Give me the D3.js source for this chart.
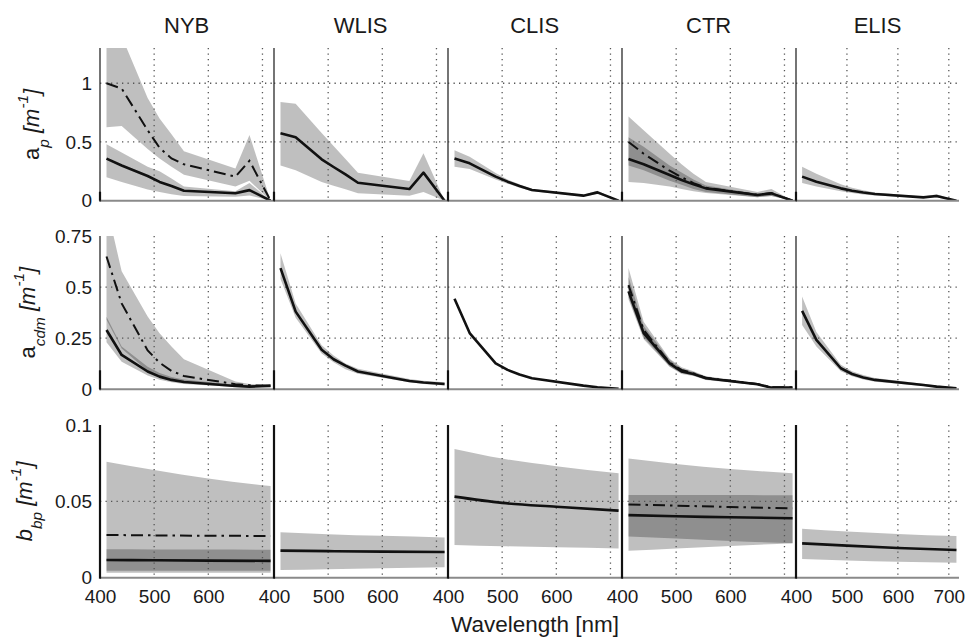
<!DOCTYPE html>
<html>
<head>
<meta charset="utf-8">
<script src="https://cdn.jsdelivr.net/npm/d3@7"></script>
<style>
  body { margin: 0; background: #fff; }
  svg text { font-family: "Liberation Sans", Arial, Helvetica, sans-serif; fill: #1a1a1a; }
</style>
</head>
<body>
<svg id="chart" width="965" height="637"></svg>
<script>
// Stations (columns) and spectral sampling
const stations = ["NYB", "WLIS", "CLIS", "CTR", "ELIS"];
const wavelengths = [412, 440, 488, 510, 532, 555, 650, 676, 715];
const bbWavelengths = [412, 500, 600, 715];

const xTickValues = [400, 500, 600, 700];
const apTicks = [0, 0.5, 1];
const acdmTicks = [0, 0.25, 0.5, 0.75];
const bbpTicks = [0, 0.05, 0.1];

// Particulate absorption a_p (m^-1): solid series with its range
const apMean = [
  [0.358, 0.30, 0.21, 0.16, 0.125, 0.085, 0.063, 0.09, 0],
  [0.574, 0.54, 0.352, 0.287, 0.224, 0.153, 0.099, 0.239, 0],
  [0.36, 0.318, 0.205, 0.162, 0.125, 0.091, 0.043, 0.071, 0],
  [0.355, 0.31, 0.219, 0.176, 0.139, 0.105, 0.048, 0.0625, 0],
  [0.205, 0.162, 0.105, 0.085, 0.07, 0.057, 0.028, 0.04, 0]
];
const apMeanLo = [
  [0.2, 0.16, 0.095, 0.075, 0.055, 0.04, 0.034, 0.045, 0],
  [0.30, 0.26, 0.16, 0.128, 0.097, 0.0625, 0.043, 0.074, 0],
  [0.29, 0.27, 0.18, 0.145, 0.11, 0.08, 0.036, 0.058, 0],
  [0.16, 0.15, 0.12, 0.10, 0.08, 0.065, 0.03, 0.04, 0],
  [0.15, 0.12, 0.08, 0.065, 0.052, 0.045, 0.022, 0.028, 0]
];
const apMeanHi = [
  [0.48, 0.41, 0.29, 0.25, 0.19, 0.12, 0.08, 0.15, 0],
  [0.84, 0.825, 0.577, 0.466, 0.355, 0.239, 0.168, 0.403, 0],
  [0.43, 0.375, 0.235, 0.18, 0.14, 0.10, 0.05, 0.085, 0],
  [0.54, 0.46, 0.30, 0.24, 0.18, 0.13, 0.06, 0.075, 0],
  [0.29, 0.23, 0.14, 0.11, 0.09, 0.07, 0.035, 0.055, 0]
];
// Dash-dot series (NYB and CTR only)
const apAlt = [
  [1.0, 0.955, 0.60, 0.45, 0.36, 0.31, 0.205, 0.34, 0],
  null, null,
  [0.50, 0.40, 0.255, 0.20, 0.15, 0.11, 0.05, 0.065, 0],
  null
];
const apAltLo = [
  [0.625, 0.636, 0.44, 0.36, 0.29, 0.22, 0.12, 0.17, 0],
  null, null,
  [0.30, 0.26, 0.17, 0.135, 0.10, 0.075, 0.03, 0.04, 0],
  null
];
const apAltHi = [
  [1.45, 1.4, 0.875, 0.70, 0.565, 0.42, 0.275, 0.56, 0],
  null, null,
  [0.716, 0.60, 0.40, 0.31, 0.23, 0.16, 0.075, 0.10, 0],
  null
];

// CDOM + detritus absorption a_cdm (m^-1)
const acdmMean = [
  [0.29, 0.168, 0.087, 0.062, 0.046, 0.036, 0.016, 0.013, 0.018],
  [0.593, 0.38, 0.193, 0.147, 0.116, 0.087, 0.041, 0.033, 0.026],
  [0.443, 0.275, 0.127, 0.095, 0.072, 0.054, 0.018, 0.01, 0.002],
  [0.479, 0.275, 0.127, 0.087, 0.075, 0.054, 0.025, 0.008, 0.008],
  [0.384, 0.242, 0.103, 0.075, 0.058, 0.046, 0.021, 0.013, 0.005]
];
const acdmMeanLo = [
  [0.23, 0.135, 0.068, 0.047, 0.034, 0.026, 0.011, 0.009, 0.013],
  [0.54, 0.35, 0.175, 0.132, 0.098, 0.076, 0.034, 0.026, 0.019],
  null,
  [0.44, 0.245, 0.11, 0.075, 0.065, 0.046, 0.02, 0.005, 0.004],
  [0.315, 0.21, 0.088, 0.064, 0.048, 0.037, 0.016, 0.009, 0.002]
];
const acdmMeanHi = [
  [0.355, 0.21, 0.11, 0.08, 0.06, 0.048, 0.022, 0.018, 0.022],
  [0.665, 0.42, 0.215, 0.165, 0.126, 0.10, 0.05, 0.042, 0.034],
  null,
  [0.55, 0.31, 0.145, 0.10, 0.085, 0.062, 0.03, 0.013, 0.012],
  [0.454, 0.28, 0.12, 0.088, 0.07, 0.055, 0.027, 0.018, 0.01]
];
const acdmAlt = [
  [0.65, 0.42, 0.19, 0.13, 0.09, 0.065, 0.025, 0.02, 0.015],
  null, null,
  [0.51, 0.29, 0.13, 0.095, 0.078, 0.056, 0.026, 0.01, 0.01],
  null
];
const acdmAltLo = [
  [0.34, 0.20, 0.09, 0.065, 0.048, 0.036, 0.012, 0.01, 0.008],
  null, null,
  [0.45, 0.255, 0.112, 0.08, 0.068, 0.048, 0.021, 0.006, 0.005],
  null
];
const acdmAltHi = [
  [0.9, 0.577, 0.356, 0.274, 0.21, 0.147, 0.038, 0.026, 0.021],
  null, null,
  [0.593, 0.33, 0.15, 0.108, 0.088, 0.064, 0.031, 0.014, 0.013],
  null
];

// Particulate backscattering b_bp (m^-1)
const bbpMean = [
  [0.0116, 0.0114, 0.0112, 0.011],
  [0.0177, 0.0174, 0.0171, 0.0168],
  [0.0531, 0.049, 0.0465, 0.0439],
  [0.041, 0.0402, 0.0396, 0.0389],
  [0.0225, 0.021, 0.0195, 0.0181]
];
const bbpMeanLo = [
  [0.0046, 0.0046, 0.0045, 0.0045],
  [0.005, 0.0056, 0.0062, 0.0068],
  [0.0214, 0.0206, 0.0199, 0.0192],
  [0.0177, 0.0192, 0.0208, 0.0225],
  [0.0122, 0.0113, 0.0105, 0.0098]
];
const bbpMeanHi = [
  [0.0186, 0.0185, 0.0184, 0.0183],
  [0.0297, 0.0285, 0.0274, 0.0264],
  [0.0843, 0.078, 0.073, 0.0684],
  [0.0542, 0.0542, 0.0541, 0.054],
  [0.0321, 0.0303, 0.0287, 0.0273]
];
const bbpAlt = [
  [0.028, 0.0277, 0.0275, 0.0273],
  null, null,
  [0.048, 0.0472, 0.0463, 0.0454],
  null
];
const bbpAltLo = [
  [0.0033, 0.0033, 0.0033, 0.0033],
  null, null,
  [0.027, 0.0256, 0.024, 0.0225],
  null
];
const bbpAltHi = [
  [0.076, 0.0705, 0.065, 0.060],
  null, null,
  [0.078, 0.0745, 0.0712, 0.0684],
  null
];

// ---- layout ----
const panelLeft = [100, 274, 448, 622, 796];
const panelWidth = [173.3, 173.3, 173.3, 173.3, 163];
const rowTop = [48, 236, 425];
const rowHeight = [152.7, 153.3, 152.7];

const rows = [
  { wl: wavelengths, domain: [0, 1.3], ticks: apTicks, fmt: d3.format("~g"),
    mean: apMean, lo: apMeanLo, hi: apMeanHi, alt: apAlt, altLo: apAltLo, altHi: apAltHi,
    sub: "p", curve: d3.curveLinear, labelX: 38.5, tickLen: 9 },
  { wl: wavelengths, domain: [0, 0.75], ticks: acdmTicks, fmt: d3.format("~g"),
    mean: acdmMean, lo: acdmMeanLo, hi: acdmMeanHi, alt: acdmAlt, altLo: acdmAltLo, altHi: acdmAltHi,
    sub: "cdm", curve: d3.curveLinear, labelX: 34.5, tickLen: 19 },
  { wl: bbWavelengths, domain: [0, 0.1], ticks: bbpTicks, fmt: d3.format("~g"),
    mean: bbpMean, lo: bbpMeanLo, hi: bbpMeanHi, alt: bbpAlt, altLo: bbpAltLo, altHi: bbpAltHi,
    sub: "bp", curve: d3.curveMonotoneX, labelX: 32, tickLen: 0, main: "b" }
];

const svg = d3.select("#chart");
const defs = svg.append("defs");

const bandFill = "#000";
const bandOpacity = 0.25;
const gridColor = "#555";
const fontStack = '"Liberation Sans", Arial, sans-serif';

rows.forEach((row, r) => {
  const top = rowTop[r], h = rowHeight[r], bottom = top + h;
  const y = d3.scaleLinear().domain(row.domain).range([bottom, top]);

  stations.forEach((st, p) => {
    const x = d3.scaleLinear().domain([400, 720]).range([panelLeft[p], panelLeft[p] + panelWidth[p]]);
    const clipId = `clip-${r}-${p}`;
    defs.append("clipPath").attr("id", clipId)
      .append("rect").attr("x", x(400)).attr("y", top).attr("width", panelWidth[p]).attr("height", h);

    const g = svg.append("g").attr("clip-path", `url(#${clipId})`);

    const zip = (vals, lo, hi) => row.wl.map((w, i) => ({ w, v: vals ? vals[i] : null, lo: lo ? lo[i] : null, hi: hi ? hi[i] : null }));
    const area = d3.area().curve(row.curve).x(d => x(d.w)).y0(d => y(d.lo)).y1(d => y(d.hi));
    const line = d3.line().curve(row.curve).x(d => x(d.w)).y(d => y(d.v));

    // ranges (semi-transparent so overlaps read darker)
    if (row.alt[p] && row.altLo[p]) {
      g.append("path").datum(zip(null, row.altLo[p], row.altHi[p]))
        .attr("d", area).attr("fill", bandFill).attr("fill-opacity", bandOpacity);
    }
    if (row.lo[p]) {
      g.append("path").datum(zip(null, row.lo[p], row.hi[p]))
        .attr("d", area).attr("fill", bandFill).attr("fill-opacity", bandOpacity);
    }

    // dotted grid
    xTickValues.filter(t => t > 400 && t < 720).forEach(t => {
      g.append("line").attr("x1", x(t)).attr("x2", x(t)).attr("y1", top).attr("y2", bottom)
        .attr("stroke", gridColor).attr("stroke-width", 1.3).attr("stroke-dasharray", "1.3,4.2");
    });
    row.ticks.filter(t => t > row.domain[0] && t < row.domain[1]).forEach(t => {
      g.append("line").attr("x1", x(400)).attr("x2", x(720)).attr("y1", y(t)).attr("y2", y(t))
        .attr("stroke", gridColor).attr("stroke-width", 1.3).attr("stroke-dasharray", "1.3,4.2");
    });

    // series lines
    if (row.alt[p]) {
      g.append("path").datum(zip(row.alt[p]))
        .attr("d", line).attr("fill", "none").attr("stroke", "#111")
        .attr("stroke-width", 2).attr("stroke-dasharray", "12,5,2.5,5");
    }
    g.append("path").datum(zip(row.mean[p]))
      .attr("d", line).attr("fill", "none").attr("stroke", "#111")
      .attr("stroke-width", 2.6).attr("stroke-linejoin", "round");

    // bottom axis line
    svg.append("line").attr("x1", x(400)).attr("x2", x(720)).attr("y1", bottom).attr("y2", bottom)
      .attr("stroke", "#8a8a8a").attr("stroke-width", 2);
    // left axis line
    svg.append("line").attr("x1", x(400)).attr("x2", x(400)).attr("y1", top).attr("y2", bottom + 1)
      .attr("stroke", r === 2 ? "#111" : "#3a3a3a").attr("stroke-width", r === 2 ? 2.2 : 1.4);
    if (row.tickLen > 0) {
      svg.append("line").attr("x1", x(400)).attr("x2", x(400)).attr("y1", bottom - row.tickLen).attr("y2", bottom)
        .attr("stroke", "#111").attr("stroke-width", 2.2);
    }

    // station titles
    if (r === 0) {
      svg.append("text").attr("x", x(560)).attr("y", 33).attr("text-anchor", "middle")
        .attr("font-size", 22).text(st);
    }

    // wavelength tick labels
    if (r === 2) {
      const vals = p === stations.length - 1 ? [400, 500, 600, 700] : [400, 500, 600];
      const ax = svg.append("g").attr("transform", `translate(0,${bottom})`)
        .call(d3.axisBottom(x).tickValues(vals).tickSize(0).tickPadding(12).tickFormat(d3.format("d")));
      ax.select(".domain").remove();
      ax.selectAll("text").attr("font-size", 19).attr("fill", "#1a1a1a").style("font-family", fontStack);
    }

    // value axis labels on first column
    if (p === 0) {
      const ay = svg.append("g").attr("transform", `translate(${x(400)},0)`)
        .call(d3.axisLeft(y).tickValues(row.ticks).tickSize(0).tickPadding(8).tickFormat(row.fmt));
      ay.select(".domain").remove();
      ay.selectAll("text").attr("font-size", 19).attr("fill", "#1a1a1a").style("font-family", fontStack);
    }
  });

  // row quantity label
  const lbl = svg.append("text")
    .attr("transform", `translate(${row.labelX},${top + h / 2}) rotate(-90)`)
    .attr("text-anchor", "middle").attr("font-size", 22);
  lbl.append("tspan").attr("font-style", r === 2 ? "italic" : "normal").text(row.main || "a");
  lbl.append("tspan").attr("baseline-shift", -10).attr("font-size", "70%").attr("font-style", "italic").text(row.sub);
  lbl.append("tspan").attr("font-style", "italic").text(" [m");
  lbl.append("tspan").attr("baseline-shift", 11).attr("font-size", "70%").attr("font-style", "italic").text("-1");
  lbl.append("tspan").attr("font-style", "italic").text("]");
});

// shared x-axis title
svg.append("text").attr("x", 535).attr("y", 632).attr("text-anchor", "middle")
  .attr("font-size", 22.5).text("Wavelength [nm]");
</script>
</body>
</html>
